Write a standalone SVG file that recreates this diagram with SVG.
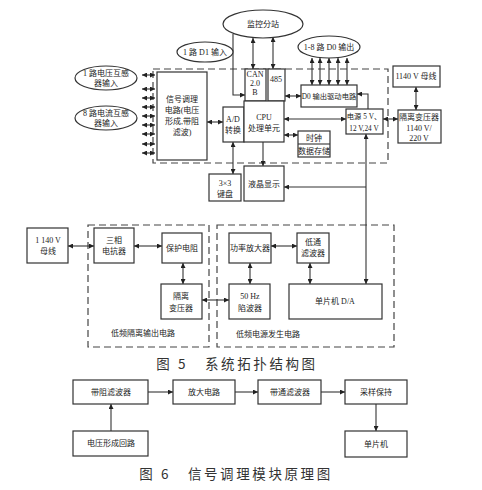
<svg xmlns="http://www.w3.org/2000/svg" width="482" height="490" viewBox="0 0 482 490">
<style>
.b{fill:#fff;stroke:#333;stroke-width:1.2}
.e{fill:#fff;stroke:#333;stroke-width:1.2}
.d{fill:none;stroke:#444;stroke-width:1.2;stroke-dasharray:7,4}
.l{fill:none;stroke:#333;stroke-width:1.1}
.a{marker-end:url(#ah)}
.aa{marker-end:url(#ah);marker-start:url(#ah)}
text{font-family:"Liberation Serif","Noto Sans CJK SC",serif;font-size:8px;fill:#222;text-anchor:middle}
.s{font-size:7.3px}
.cap{font-family:"Noto Sans CJK SC","Liberation Sans",sans-serif;font-size:13.5px;fill:#333;letter-spacing:2.6px;white-space:pre}
</style>
<defs>
<marker id="ah" viewBox="0 0 10 10" refX="10" refY="5" markerWidth="5" markerHeight="5" markerUnits="userSpaceOnUse" orient="auto-start-reverse">
<path d="M0,0 L10,5 L0,10 z" fill="#222"/>
</marker>
</defs>
<rect width="482" height="490" fill="#fff"/>

<!-- dashed boundaries -->
<g id="regions">
<path class="d" d="M153,69 H388 V163 H153 Z"/>
<rect class="d" x="88" y="225" width="121" height="122"/>
<rect class="d" x="217" y="225" width="177" height="122"/>
<text x="143" y="336">低频隔离输出电路</text>
<text x="268" y="337">低频电源发生电路</text>
</g>

<!-- connectors -->
<g id="connectors">
<path class="l aa" d="M253,38 V69"/>
<path class="l aa" d="M273,37 V69"/>
<path class="l a" d="M233,34 V95 H245"/>
<path class="l aa" d="M312,58 V85"/>
<path class="l aa" d="M320,58 V85"/>
<path class="l aa" d="M329,58 V85"/>
<path class="l aa" d="M338,58 V85"/>
<path class="l aa" d="M347,58 V85"/>
<path class="l aa" d="M142,75 H155"/>
<path class="l aa" d="M142,89 H155"/>
<path class="l aa" d="M142,98 H155"/>
<path class="l aa" d="M142,107 H155"/>
<path class="l aa" d="M142,116 H155"/>
<path class="l aa" d="M142,125 H155"/>
<path class="l aa" d="M142,134 H155"/>
<path class="l aa" d="M142,144 H155"/>
<path class="l aa" d="M142,153 H155"/>
<path class="l aa" d="M207,122 H223"/>
<path class="l aa" d="M285,96 H301"/>
<path class="l a" d="M368,109 V94 H357"/>
<path class="l aa" d="M284,119 H346"/>
<path class="l aa" d="M383,119 H398"/>
<path class="l aa" d="M416,87 V110"/>
<path class="l aa" d="M284,135 H298"/>
<path class="l aa" d="M233,142 V174"/>
<path class="l a" d="M263,142 V166"/>
<path class="l aa" d="M366,134 V284"/>
<path class="l a" d="M366,187 H284"/>
<path class="l aa" d="M68,246 H94"/>
<path class="l aa" d="M134,246 H162"/>
<path class="l aa" d="M183,263 V284"/>
<path class="l aa" d="M202,300 H229"/>
<path class="l aa" d="M271,246 H297"/>
<path class="l aa" d="M250,263 V284"/>
<path class="l aa" d="M310,263 V284"/>
<path class="l a" d="M148,392 H173"/>
<path class="l a" d="M235,392 H258"/>
<path class="l a" d="M321,392 H345"/>
<path class="l a" d="M376,404 V431"/>
<path class="l a" d="M111,431 V404"/>
</g>

<!-- top nodes -->
<g id="jiankong"><ellipse class="e" cx="263" cy="24" rx="40" ry="14"/><text x="263" y="27" font-size="9">监控分站</text></g>
<g id="d1in"><ellipse class="e" cx="205" cy="52" rx="28" ry="10"/><text x="205" y="55">1 路 D1 输入</text></g>
<g id="d0out"><ellipse class="e" cx="329" cy="47" rx="31" ry="11"/><text x="329" y="50">1-8 路 D0 输出</text></g>
<g id="vin"><ellipse class="e" cx="106" cy="78" rx="31" ry="12"/><text x="106" y="76">1 路电压互感</text><text x="106" y="86">器输入</text></g>
<g id="iin"><ellipse class="e" cx="106" cy="118" rx="31" ry="12"/><text x="106" y="116">8 路电流互感</text><text x="106" y="126">器输入</text></g>
<g id="signal"><rect class="b" x="157" y="72" width="50" height="88"/><text x="182" y="102">信号调理</text><text x="182" y="113">电路(电压</text><text x="182" y="124">形成,带阻</text><text x="182" y="135">滤波)</text></g>
<g id="can"><rect class="b" x="245" y="69" width="21" height="32"/><text x="255" y="77">CAN</text><text x="255" y="86">2.0</text><text x="255" y="95">B</text></g>
<g id="r485"><rect class="b" x="268" y="69" width="17" height="32"/><text x="276" y="82">485</text></g>
<g id="ad"><rect class="b" x="223" y="107" width="21" height="35"/><text x="233" y="122">A/D</text><text x="233" y="133">转换</text></g>
<g id="cpu"><rect class="b" x="244" y="101" width="40" height="41"/><text x="264" y="120">CPU</text><text x="264" y="131">处理单元</text></g>
<g id="d0drv"><rect class="b" x="301" y="85" width="56" height="22"/><text class="s" x="329" y="99">D0 输出驱动电路</text></g>
<g id="power"><rect class="b" x="346" y="109" width="37" height="25"/><text class="s" x="364" y="119">电源 5 V、</text><text class="s" x="364" y="131">12 V,24 V</text></g>
<g id="bus1"><rect class="b" x="393" y="66" width="47" height="21"/><text x="416" y="79">1140 V 母线</text></g>
<g id="iso1"><rect class="b" x="398" y="110" width="43" height="33"/><text x="419" y="120">隔离变压器</text><text x="419" y="131">1140 V/</text><text x="419" y="141">220 V</text></g>
<g id="clock"><rect class="b" x="298" y="131" width="32" height="26"/><line class="l" x1="298" y1="144" x2="330" y2="144"/><text x="314" y="141">时钟</text><text x="314" y="154">数据存储</text></g>
<g id="keypad"><rect class="b" x="209" y="174" width="32" height="27"/><text x="225" y="186">3×3</text><text x="225" y="197">键盘</text></g>
<g id="lcd"><rect class="b" x="244" y="166" width="40" height="35"/><text x="264" y="187">液晶显示</text></g>

<!-- middle nodes -->
<g id="bus2"><rect class="b" x="27" y="228" width="41" height="35"/><text x="48" y="243">1 140 V</text><text x="48" y="254">母线</text></g>
<g id="reactor"><rect class="b" x="94" y="228" width="40" height="35"/><text x="114" y="243">三相</text><text x="114" y="254">电抗器</text></g>
<g id="resist"><rect class="b" x="162" y="233" width="40" height="30"/><text x="182" y="251">保护电阻</text></g>
<g id="iso2"><rect class="b" x="161" y="284" width="41" height="35"/><text x="181" y="299">隔离</text><text x="181" y="311">变压器</text></g>
<g id="amp"><rect class="b" x="229" y="233" width="42" height="30"/><text x="250" y="251">功率放大器</text></g>
<g id="lpf"><rect class="b" x="297" y="233" width="32" height="30"/><text x="313" y="245">低通</text><text x="313" y="256">滤波器</text></g>
<g id="notch"><rect class="b" x="229" y="284" width="41" height="35"/><text x="250" y="299">50 Hz</text><text x="250" y="311">陷波器</text></g>
<g id="mcu1"><rect class="b" x="289" y="284" width="93" height="35"/><text x="335" y="304">单片机 D/A</text></g>

<text class="cap" x="237" y="369">图 5   系统拓扑结构图</text>

<!-- bottom nodes -->
<g id="bsf"><rect class="b" x="73" y="380" width="75" height="24"/><text x="111" y="395">带阻滤波器</text></g>
<g id="ampc"><rect class="b" x="173" y="380" width="62" height="24"/><text x="204" y="395">放大电路</text></g>
<g id="bpf"><rect class="b" x="258" y="380" width="63" height="24"/><text x="290" y="395">带通滤波器</text></g>
<g id="sh"><rect class="b" x="345" y="380" width="62" height="24"/><text x="376" y="395">采样保持</text></g>
<g id="mcu2"><rect class="b" x="345" y="431" width="62" height="26"/><text x="376" y="447">单片机</text></g>
<g id="vform"><rect class="b" x="73" y="431" width="75" height="25"/><text x="111" y="446">电压形成回路</text></g>

<text class="cap" x="236" y="479">图 6   信号调理模块原理图</text>
</svg>
